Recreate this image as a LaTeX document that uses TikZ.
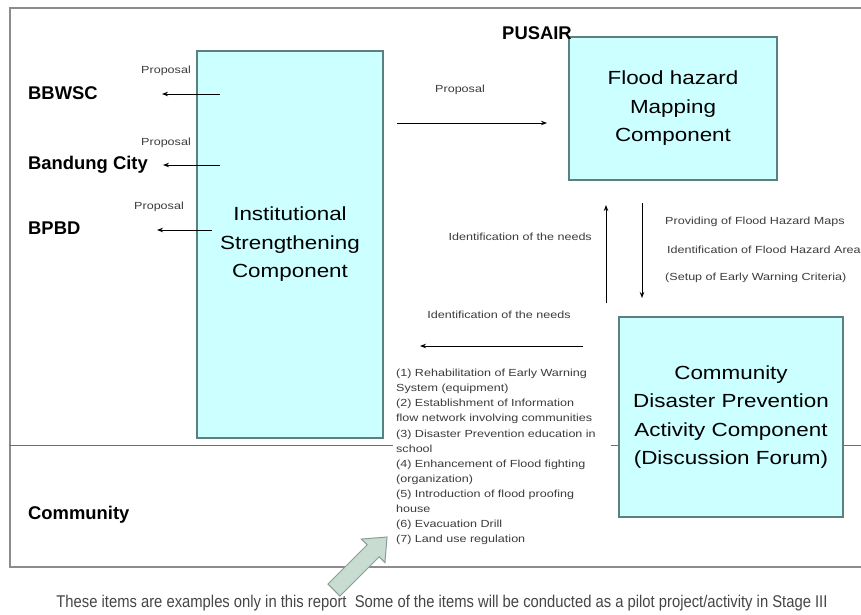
\documentclass[tikz,border=0pt]{standalone}
\usepackage{fontspec}
\setmainfont{Liberation Sans}
\newfontfamily\boxfont[FakeStretch=1.18]{Liberation Sans}
\newfontfamily\smallfont[FakeStretch=1.22]{Liberation Sans}
\newfontfamily\notefont[FakeStretch=0.87]{Liberation Sans}
\usetikzlibrary{arrows.meta}

\definecolor{boxfill}{RGB}{204,255,255}
\definecolor{boxline}{RGB}{90,128,128}
\definecolor{framegray}{RGB}{140,140,140}
\definecolor{sepgray}{RGB}{110,110,110}
\definecolor{blockfill}{RGB}{200,220,210}
\definecolor{blockline}{RGB}{135,160,148}
\definecolor{smalltext}{RGB}{60,60,60}
\definecolor{notetext}{RGB}{70,70,70}

\tikzset{
  comp/.style={draw=boxline, line width=1.3pt, fill=boxfill, align=center,
    font=\boxfont\fontsize{19}{28.5}\selectfont, inner sep=0pt},
  party/.style={anchor=west, font=\bfseries\fontsize{18.4}{22}\selectfont, inner sep=0pt},
  tag/.style={font=\smallfont\fontsize{10.3}{15.1}\selectfont, text=smalltext, inner sep=0pt},
  flow/.style={-{Stealth[length=6pt,width=4.5pt]}, line width=0.9pt},
}

\begin{document}
\begin{tikzpicture}[x=1pt,y=-1pt]
\useasboundingbox (0,0) rectangle (861,614);
\clip (0,0) rectangle (861,614);
\fill[white] (0,0) rectangle (861,614);

% outer frame (open on the right) and the community divider
\draw[framegray, line width=1.8pt] (861,8) -- (10,8) -- (10,567) -- (861,567);
\draw[sepgray, line width=1pt] (10,445) -- (861,445);

% components
\node[comp, minimum width=186pt, minimum height=387pt] (inst) at (290,244.5)
  {Institutional\\Strengthening\\Component};
\node[comp, minimum width=208pt, minimum height=143pt] (flood) at (673,108.5)
  {Flood hazard\\Mapping\\Component};
\node[comp, minimum width=224pt, minimum height=200pt] (cdp) at (731,417)
  {Community\\Disaster Prevention\\Activity Component\\(Discussion Forum)};

% stakeholders
\node[party] (bbwsc) at (28,93) {BBWSC};
\node[party] (bandung) at (28,165) {Bandung City};
\node[party] (bpbd) at (28,228) {BPBD};
\node[party] (community) at (28,515) {Community};
\node[font=\bfseries\fontsize{18.4}{22}\selectfont, inner sep=0pt] (pusair) at (537,33) {PUSAIR};

% proposals from the institutional component
\coordinate (p1s) at (220,94);  \coordinate (p1e) at (162,94);
\coordinate (p2s) at (220,165); \coordinate (p2e) at (163,165);
\coordinate (p3s) at (212,230); \coordinate (p3e) at (157,230);
\draw[flow] (p1s) -- (p1e);
\draw[flow] (p2s) -- (p2e);
\draw[flow] (p3s) -- (p3e);
\node[tag] (prop1) at (166,71) {Proposal};
\node[tag] (prop2) at (166,143) {Proposal};
\node[tag] (prop3) at (159,207) {Proposal};

\coordinate (p4s) at (397,123); \coordinate (p4e) at (547,123);
\draw[flow] (p4s) -- (p4e);
\node[tag] (prop4) at (460,90) {Proposal};

% exchange between mapping and community components
\coordinate (ups) at (606,303);  \coordinate (upe) at (606,205);
\coordinate (dns) at (642,203);  \coordinate (dne) at (642,298);
\draw[flow] (ups) -- (upe);
\draw[flow] (dns) -- (dne);
\node[tag, anchor=east] (needs1) at (592,237) {Identification of the needs};
\node[tag, anchor=west] (maps) at (665,222) {Providing of Flood Hazard Maps};
\node[tag, anchor=west] (areas) at (667,250) {Identification of Flood Hazard Area};
\node[tag, anchor=west] (crit) at (665,278) {(Setup of Early Warning Criteria)};

\coordinate (lfs) at (583,346); \coordinate (lfe) at (420,346);
\draw[flow] (lfs) -- (lfe);
\node[tag] (needs2) at (499,315) {Identification of the needs};

% list of example activities
\node[tag, anchor=north west, fill=white, inner xsep=3pt, inner ysep=2pt,
      text width=212pt, align=left] (items) at (393,367)
  {(1) Rehabilitation of Early Warning\\
   System (equipment)\\
   (2) Establishment of Information\\
   flow network involving communities\\
   (3) Disaster Prevention education in\\
   school\\
   (4) Enhancement of Flood fighting\\
   (organization)\\
   (5) Introduction of flood proofing\\
   house\\
   (6) Evacuation Drill\\
   (7) Land use regulation};

% block arrow pointing at the list
\begin{scope}[shift={(387,537)}, rotate=45]
  \draw[blockline, fill=blockfill, line width=1pt, line join=miter]
    (0,0) -- (-19.5,16.6) -- (-19.5,8.5) -- (-75,8.5) -- (-75,-8.5)
    -- (-19.5,-8.5) -- (-19.5,-16.6) -- cycle;
\end{scope}

\node[font=\notefont\fontsize{17}{20}\selectfont, text=notetext, inner sep=0pt] (note) at (442,603)
  {These items are examples only in this report\ \ Some of the items will be conducted as a pilot project/activity in Stage III};
\end{tikzpicture}
\end{document}
